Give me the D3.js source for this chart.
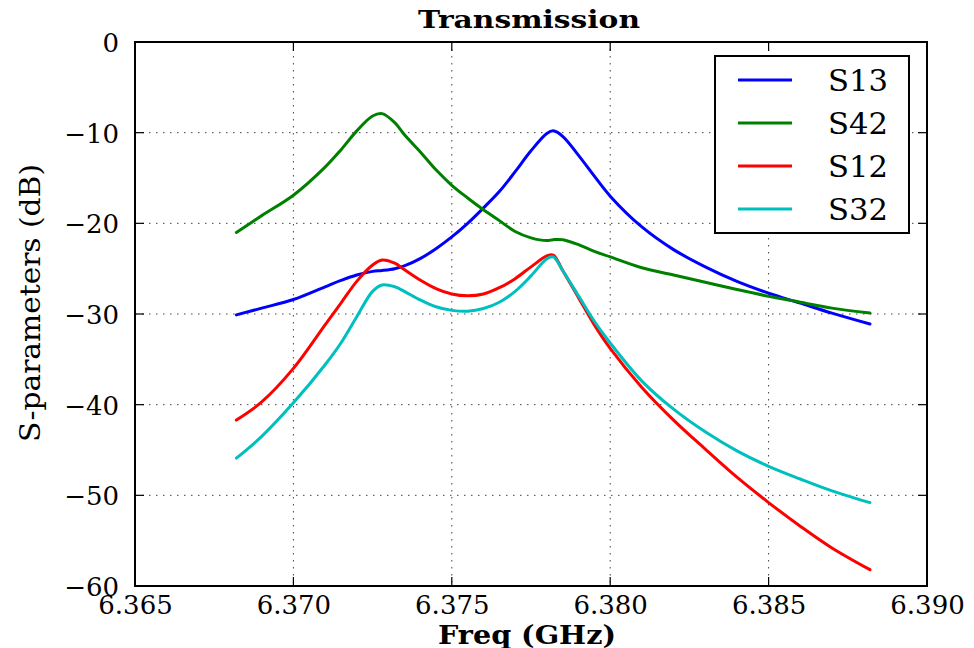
<!DOCTYPE html>
<html><head><meta charset="utf-8">
<script src="https://cdn.jsdelivr.net/npm/d3@7"></script>
<style>body{margin:0;background:#fff}svg{display:block}</style>
</head><body>
<svg id="c" width="974" height="648"></svg>
<script>
const freq = [6.3682,6.3690,6.3700,6.3710,6.3715,6.3720,6.3725,6.3728,6.3732,6.3735,6.3740,6.3745,6.3750,6.3755,6.3760,6.3765,6.3770,6.3775,6.3780,6.3782,6.3785,6.3790,6.3795,6.3800,6.3810,6.3820,6.3830,6.3840,6.3850,6.3860,6.3870,6.3882];
const s13 = [-30.1,-29.35,-28.4,-27.0,-26.3,-25.7,-25.3,-25.2,-25.0,-24.7,-23.9,-22.8,-21.5,-20.0,-18.3,-16.5,-14.3,-12.0,-10.1,-9.8,-10.4,-12.5,-14.8,-17.0,-20.4,-22.9,-24.8,-26.4,-27.7,-28.8,-29.9,-31.1];
const s42 = [-21.0,-19.15,-16.9,-13.8,-11.9,-9.8,-8.16,-7.9,-8.9,-10.2,-12.1,-14.1,-15.8,-17.2,-18.5,-19.7,-20.9,-21.6,-21.9,-21.8,-21.8,-22.35,-23.1,-23.7,-24.9,-25.7,-26.5,-27.3,-28.05,-28.7,-29.35,-29.9];
const s12 = [-41.7,-39.7,-36.0,-31.2,-28.8,-26.4,-24.6,-24.05,-24.4,-25.1,-26.25,-27.2,-27.8,-28.0,-27.8,-27.1,-26.1,-24.8,-23.6,-23.5,-25.2,-28.2,-31.2,-33.8,-38.1,-41.7,-44.9,-48.0,-50.8,-53.4,-55.8,-58.2];
const s32 = [-45.9,-43.5,-39.8,-35.6,-33.2,-30.3,-27.5,-26.8,-27.0,-27.5,-28.45,-29.2,-29.6,-29.7,-29.4,-28.7,-27.5,-25.8,-23.9,-23.7,-25.2,-28.0,-30.8,-33.2,-37.4,-40.5,-43.0,-45.1,-46.8,-48.2,-49.5,-50.8];
const seriesNames = ["S13","S42","S12","S32"];
const seriesColors = ["#0000ff","#008000","#ff0000","#00bfbf"];
const seriesValues = [s13,s42,s12,s32];
const xTicks = [6.365,6.370,6.375,6.380,6.385,6.390];
const yTicks = [0,-10,-20,-30,-40,-50,-60];
const titleText = "Transmission", xLabel = "Freq (GHz)", yLabel = "S-parameters (dB)";

const L=135,R=927,T=42,B=586;
const svg=d3.select("#c");
const x=d3.scaleLinear().domain([6.365,6.390]).range([L,R]);
const y=d3.scaleLinear().domain([-60,0]).range([B,T]);
const font="'DejaVu Serif','Liberation Serif',serif";

// grid
const g=svg.append("g");
g.selectAll("line.gx").data(xTicks.slice(1,-1)).join("line")
 .attr("x1",d=>x(d)).attr("x2",d=>x(d)).attr("y1",T).attr("y2",B)
 .attr("stroke","#444").attr("stroke-width",1).attr("stroke-dasharray","1.5,5.5");
g.selectAll("line.gy").data(yTicks.slice(1,-1)).join("line")
 .attr("y1",d=>y(d)).attr("y2",d=>y(d)).attr("x1",L).attr("x2",R)
 .attr("stroke","#444").attr("stroke-width",1).attr("stroke-dasharray","1.5,5.5");

// lines
const line=d3.line().x((d,i)=>x(freq[i])).y(d=>y(d)).curve(d3.curveCatmullRom.alpha(0.5));
seriesValues.forEach((vals,k)=>{
  svg.append("path").datum(vals).attr("d",line).attr("fill","none")
   .attr("stroke",seriesColors[k]).attr("stroke-width",3).attr("stroke-linejoin","round").attr("stroke-linecap","round");
});

// ticks inside on all sides
const ax=svg.append("g");
const tl=9;
xTicks.forEach(t=>{
  ax.append("line").attr("x1",x(t)).attr("x2",x(t)).attr("y1",B).attr("y2",B-tl).attr("stroke","#000").attr("stroke-width",1.2);
  ax.append("line").attr("x1",x(t)).attr("x2",x(t)).attr("y1",T).attr("y2",T+tl).attr("stroke","#000").attr("stroke-width",1.2);
});
yTicks.forEach(t=>{
  ax.append("line").attr("y1",y(t)).attr("y2",y(t)).attr("x1",L).attr("x2",L+tl).attr("stroke","#000").attr("stroke-width",1.2);
  ax.append("line").attr("y1",y(t)).attr("y2",y(t)).attr("x1",R).attr("x2",R-tl).attr("stroke","#000").attr("stroke-width",1.2);
});
svg.append("rect").attr("x",L).attr("y",T).attr("width",R-L).attr("height",B-T)
 .attr("fill","none").attr("stroke","#000").attr("stroke-width",2);

const xAxis=d3.axisBottom(x).tickValues(xTicks).tickFormat(d3.format(".3f")).tickSize(0);
const xa=svg.append("g").attr("transform",`translate(0,${B})`).call(xAxis);
xa.select(".domain").remove();
xa.selectAll("text").attr("font-family",font).attr("font-size",26).attr("fill","#000").attr("dy",0).attr("y",28);

const yAxis=d3.axisLeft(y).tickValues(yTicks).tickFormat(d=>d===0?"0":"\u2212"+Math.abs(d)).tickSize(0);
const ya=svg.append("g").attr("transform",`translate(${L},0)`).call(yAxis);
ya.select(".domain").remove();
ya.selectAll("text").attr("font-family",font).attr("font-size",26).attr("fill","#000").attr("x",-16).attr("dy","0.36em");

// title & labels
svg.append("text").attr("x",529).attr("y",28).attr("text-anchor","middle")
 .attr("font-family",font).attr("font-weight","bold").attr("font-size",24)
 .attr("textLength",222).attr("lengthAdjust","spacingAndGlyphs").text(titleText);
svg.append("text").attr("x",527).attr("y",644).attr("text-anchor","middle")
 .attr("font-family",font).attr("font-weight","bold").attr("font-size",26)
 .attr("textLength",178).attr("lengthAdjust","spacingAndGlyphs").text(xLabel);
svg.append("text").attr("transform",`translate(40,303) rotate(-90)`).attr("text-anchor","middle")
 .attr("font-family",font).attr("font-size",27)
 .attr("textLength",278).attr("lengthAdjust","spacingAndGlyphs").text(yLabel);

// legend
const lg=svg.append("g");
lg.append("rect").attr("x",715).attr("y",56).attr("width",194).attr("height",177)
 .attr("fill","#fff").attr("stroke","#000").attr("stroke-width",2);
seriesNames.forEach((n,k)=>{
  const yy=80+k*43;
  lg.append("line").attr("x1",738).attr("x2",792).attr("y1",yy).attr("y2",yy)
   .attr("stroke",seriesColors[k]).attr("stroke-width",3);
  lg.append("text").attr("x",828).attr("y",yy).attr("dy","0.36em")
   .attr("font-family",font).attr("font-size",30)
   .attr("textLength",60).attr("lengthAdjust","spacingAndGlyphs").text(n);
});
</script>
</body></html>
